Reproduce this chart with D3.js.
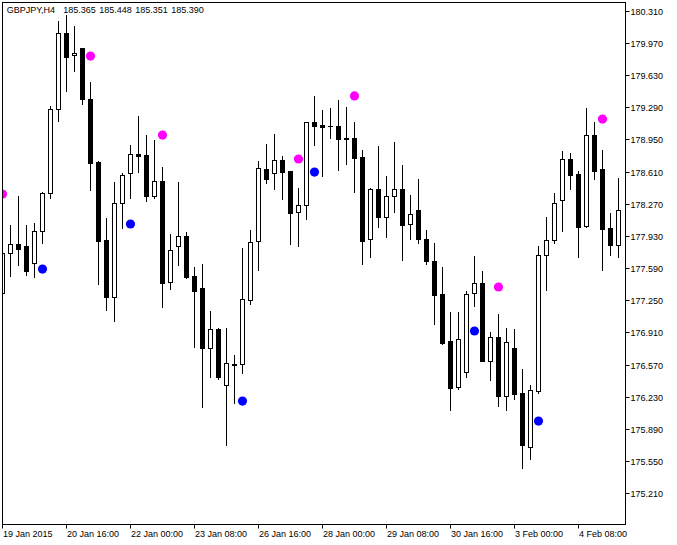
<!DOCTYPE html>
<html>
<head>
<meta charset="utf-8">
<script src="https://cdn.jsdelivr.net/npm/d3@7"></script>
<style>
  html, body { margin: 0; padding: 0; background: #fff; }
  svg { display: block; }
  text { font-family: "Liberation Sans", Arial, sans-serif; font-size: 9px; fill: #000; }
</style>
</head>
<body>
<div id="chart"></div>
<script>
// GBPJPY H4 candles, bar 0 = 19 Jan 2015
const opens = [
  177.326, 177.749, 177.844, 177.823, 177.643, 177.982, 178.383, 179.271, 180.074, 179.842,
  179.916, 179.377, 178.711, 177.886, 177.284, 178.278, 178.595, 178.795, 178.785, 178.352,
  178.510, 177.443, 177.823, 177.929, 177.506, 177.379, 176.745, 176.946, 176.354, 176.576,
  176.576, 177.252, 177.876, 178.637, 178.595, 178.732, 178.616, 178.182, 178.256, 179.134,
  179.102, 179.091, 179.091, 178.965, 178.965, 178.764, 177.897, 178.426, 178.130, 178.352,
  178.426, 178.056, 178.204, 177.897, 177.665, 177.316, 176.819, 176.333, 176.491, 177.326,
  177.432, 176.608, 176.861, 176.238, 176.745, 176.269, 175.699, 176.291, 177.728, 177.886,
  178.309, 178.743, 178.584, 178.034, 178.996, 178.637, 178.013, 177.834
];
const highs = [
  177.749, 178.045, 178.352, 178.045, 178.066, 178.394, 179.303, 180.201, 180.265, 180.148,
  179.916, 179.556, 178.721, 178.119, 178.500, 178.595, 178.891, 179.197, 178.996, 178.943,
  178.658, 177.950, 178.500, 177.971, 177.601, 177.633, 177.136, 176.957, 176.957, 176.671,
  177.802, 177.992, 178.721, 178.901, 179.007, 178.774, 178.616, 178.436, 179.134, 179.409,
  179.260, 179.282, 179.366, 179.292, 179.134, 178.838, 178.436, 178.880, 178.563, 178.922,
  178.679, 178.362, 178.531, 177.992, 177.855, 177.601, 177.126, 177.126, 177.348, 177.717,
  177.559, 176.914, 177.104, 176.957, 176.946, 176.523, 176.354, 177.823, 178.130, 178.383,
  178.827, 178.806, 178.616, 179.282, 179.134, 178.838, 178.172, 178.542
];
const lows = [
  177.326, 177.506, 177.622, 177.517, 177.495, 177.855, 178.330, 179.144, 179.461, 179.673,
  179.324, 178.415, 177.422, 177.147, 177.030, 178.013, 178.330, 178.605, 178.299, 178.330,
  177.178, 177.369, 177.622, 177.485, 176.756, 176.122, 176.439, 176.417, 175.720, 176.164,
  176.481, 177.210, 177.569, 178.489, 178.426, 178.320, 177.844, 177.823, 178.108, 178.891,
  178.563, 178.965, 178.626, 178.690, 178.394, 177.633, 177.707, 178.024, 177.918, 178.182,
  177.675, 177.897, 177.855, 177.633, 176.999, 176.787, 176.090, 176.312, 176.439, 177.189,
  176.608, 176.407, 176.132, 176.090, 176.206, 175.477, 175.572, 176.269, 177.358, 177.855,
  177.982, 178.426, 177.707, 178.024, 178.531, 177.569, 177.728, 177.707
];
const closes = [
  177.749, 177.844, 177.791, 177.559, 177.982, 178.383, 179.271, 180.074, 179.821, 179.863,
  179.377, 178.700, 177.876, 177.284, 178.278, 178.574, 178.795, 178.774, 178.352, 178.510,
  177.432, 177.781, 177.929, 177.495, 177.348, 176.745, 176.946, 176.439, 176.587, 176.565,
  177.263, 177.865, 178.647, 178.531, 178.732, 178.605, 178.172, 178.256, 179.134, 179.091,
  179.081, 179.091, 178.954, 178.954, 178.753, 177.876, 178.426, 178.130, 178.352, 178.426,
  178.045, 178.161, 177.897, 177.665, 177.305, 176.798, 176.322, 176.840, 177.316, 177.432,
  176.608, 176.861, 176.238, 176.809, 176.259, 175.720, 176.301, 177.728, 177.886, 178.278,
  178.743, 178.574, 178.024, 178.996, 178.616, 178.003, 177.834, 178.204
];

// indicator dots: bar index + price
const sellBars = [0, 11, 20, 37, 44, 62, 75];
const sellPrices = [178.373, 179.831, 178.996, 178.743, 179.409, 177.390, 179.165];
const buyBars = [5, 16, 30, 39, 59, 67];
const buyPrices = [177.580, 178.056, 176.185, 178.605, 176.925, 175.973];

const priceTicks = [180.310, 179.970, 179.630, 179.290, 178.950, 178.610, 178.270, 177.930,
  177.590, 177.250, 176.910, 176.570, 176.230, 175.890, 175.550, 175.210];
const timeTickBars = [0, 8, 16, 24, 32, 40, 48, 56, 64, 72];
const timeTickLabels = ["19 Jan 2015", "20 Jan 16:00", "22 Jan 00:00", "23 Jan 08:00", "26 Jan 16:00",
  "28 Jan 00:00", "29 Jan 08:00", "30 Jan 16:00", "3 Feb 00:00", "4 Feb 08:00"];

// symbol line: name, then open high low close of the current bar
const titleParts = ["GBPJPY,H4", "185.365", "185.448", "185.351", "185.390"];

(() => {
  let w = 677, h = 545;
  let frameL = 2.5, frameR = 625.5, frameT = 2.5, frameB = 524.5;

  let svg = d3.select("#chart").append("svg")
    .attr("width", w)
    .attr("height", h);

  let x = d3.scaleLinear().domain([0, 77]).range([2.5, 618.5]);
  let y = d3.scaleLinear().domain([175.21, 180.31]).range([493.3, 10.7]);

  svg.append("clipPath").attr("id", "plot")
    .append("rect")
    .attr("x", 3).attr("y", 3)
    .attr("width", frameR - 3.5).attr("height", frameB - 3.5);

  let plot = svg.append("g").attr("clip-path", "url(#plot)");

  let bars = d3.range(opens.length).map(i => ({
    i: i, o: opens[i], h: highs[i], l: lows[i], c: closes[i]
  }));

  // wicks
  plot.selectAll(".wick")
    .data(bars)
    .enter()
    .append("line")
    .attr("x1", d => x(d.i))
    .attr("x2", d => x(d.i))
    .attr("y1", d => Math.round(y(d.h)))
    .attr("y2", d => Math.round(y(d.l)) + 1)
    .attr("stroke", "#000")
    .attr("stroke-width", 1);

  // bodies
  plot.selectAll(".body")
    .data(bars)
    .enter()
    .append("rect")
    .each(function(d) {
      let t = Math.round(y(Math.max(d.o, d.c)));
      let b = Math.round(y(Math.min(d.o, d.c)));
      let el = d3.select(this);
      if (d.c > d.o && b - t >= 2) {
        el.attr("x", x(d.i) - 2)
          .attr("y", t + 0.5)
          .attr("width", 4)
          .attr("height", b - t)
          .attr("fill", "#fff")
          .attr("stroke", "#000")
          .attr("stroke-width", 1);
      } else {
        el.attr("x", x(d.i) - 2.5)
          .attr("y", t)
          .attr("width", 5)
          .attr("height", Math.max(1, b - t + 1))
          .attr("fill", "#000");
      }
    });

  // signal dots
  plot.selectAll(".sell")
    .data(sellBars)
    .enter()
    .append("circle")
    .attr("cx", (d) => x(d))
    .attr("cy", (d, i) => y(sellPrices[i]))
    .attr("r", 4.6)
    .attr("fill", "#ff00ff");

  plot.selectAll(".buy")
    .data(buyBars)
    .enter()
    .append("circle")
    .attr("cx", (d) => x(d))
    .attr("cy", (d, i) => y(buyPrices[i]))
    .attr("r", 4.6)
    .attr("fill", "#0000ff");

  // frame
  svg.append("rect")
    .attr("x", frameL).attr("y", frameT)
    .attr("width", frameR - frameL).attr("height", frameB - frameT)
    .attr("fill", "none")
    .attr("stroke", "#000")
    .attr("stroke-width", 1);

  // price axis
  let yTicks = svg.append("g");
  yTicks.selectAll("line")
    .data(priceTicks)
    .enter()
    .append("line")
    .attr("x1", frameR).attr("x2", frameR + 4)
    .attr("y1", d => Math.round(y(d)) + 0.5)
    .attr("y2", d => Math.round(y(d)) + 0.5)
    .attr("stroke", "#000");
  yTicks.selectAll("text")
    .data(priceTicks)
    .enter()
    .append("text")
    .attr("x", 630.5)
    .attr("y", d => Math.round(y(d)) + 3.5)
    .text(d => d.toFixed(3));

  // time axis
  let xTicks = svg.append("g");
  xTicks.selectAll("line")
    .data(timeTickBars)
    .enter()
    .append("line")
    .attr("x1", d => x(d)).attr("x2", d => x(d))
    .attr("y1", frameB).attr("y2", frameB + 4)
    .attr("stroke", "#000");
  xTicks.selectAll("text")
    .data(timeTickBars)
    .enter()
    .append("text")
    .attr("x", d => x(d) + 0.5)
    .attr("y", 537)
    .text((d, i) => timeTickLabels[i]);

  // title, pieces spaced like the terminal does it
  let titleX = [6.7, 63.3, 99.3, 135.3, 171.3];
  svg.append("text")
    .attr("y", 13)
    .selectAll("tspan")
    .data(titleParts)
    .enter()
    .append("tspan")
    .attr("x", (d, i) => titleX[i])
    .text(d => d);
})();
</script>
</body>
</html>
